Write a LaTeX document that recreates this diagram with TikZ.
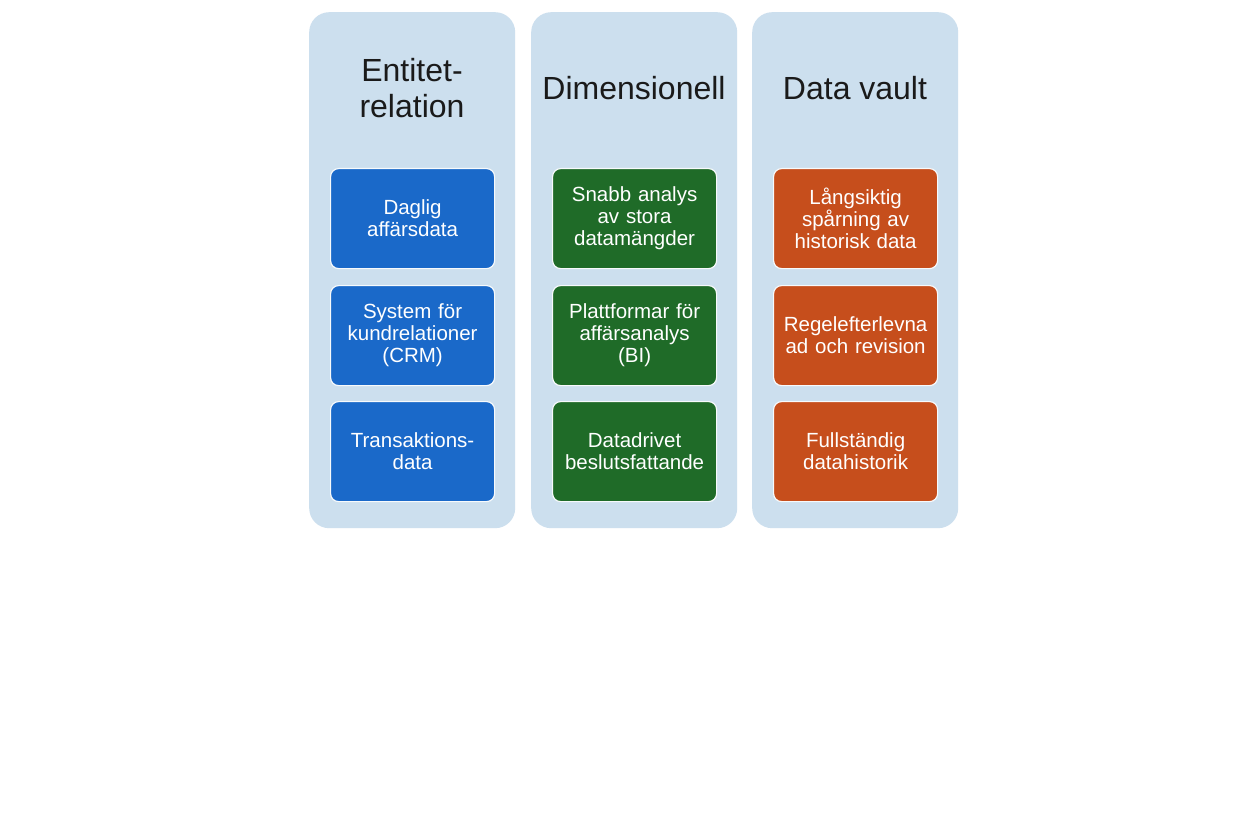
\documentclass[tikz,border=0pt]{standalone}
\usepackage{fontspec}
\setmainfont{Liberation Sans}
\definecolor{panelc}{HTML}{CCDFEE}
\definecolor{bluec}{HTML}{1A69C9}
\definecolor{greenc}{HTML}{1F6B28}
\definecolor{orangec}{HTML}{C64E1C}
\definecolor{titlec}{HTML}{1A1A1A}
\tikzset{
  panel/.style={fill=panelc, draw=none, rounded corners=20pt, minimum width=206pt, minimum height=516pt, anchor=north west, inner sep=0pt},
  ttl/.style={text=titlec, font=\fontsize{32}{36}\selectfont, align=center},
  card/.style={draw=white!85!panelc, line width=1.2pt, rounded corners=8pt, minimum width=164pt, minimum height=100pt, text width=162pt, align=center, text=white, font=\fontsize{20.5}{22}\selectfont, anchor=north west, inner sep=0pt},
  bcard/.style={card, fill=bluec},
  gcard/.style={card, fill=greenc},
  ocard/.style={card, fill=orangec},
}
\begin{document}
\begin{tikzpicture}[x=1pt,y=-1pt]
\useasboundingbox (0,0) rectangle (1254,832);
\fill[white] (0,0) rectangle (1254,832);
\node[panel] (p1) at (309,12) {};
\node[panel] (p2) at (531,12) {};
\node[panel] (p3) at (752,12) {};
\node[ttl] (t1) at (412,88) {Entitet-\\relation};
\node[ttl] (t2) at (634,88) {Dimensionell};
\node[ttl] (t3) at (855,88) {Data vault};
\node[bcard] (b1) at (330,168) {Daglig\\affärsdata};
\node[bcard] (b2) at (330,285) {System för\\kundrelationer\\(CRM)};
\node[bcard] (b3) at (330,401) {Transaktions-\\data};
\node[gcard] (g1) at (552,168) {Snabb analys\\av stora\\datamängder};
\node[gcard] (g2) at (552,285) {Plattformar för\\affärsanalys\\(BI)};
\node[gcard] (g3) at (552,401) {Datadrivet\\beslutsfattande};
\node[ocard] (o1) at (773,168) {Långsiktig\\spårning av\\historisk data};
\node[ocard] (o2) at (773,285) {Regelefterlevna\\ad och revision};
\node[ocard] (o3) at (773,401) {Fullständig\\datahistorik};
\end{tikzpicture}
\end{document}
